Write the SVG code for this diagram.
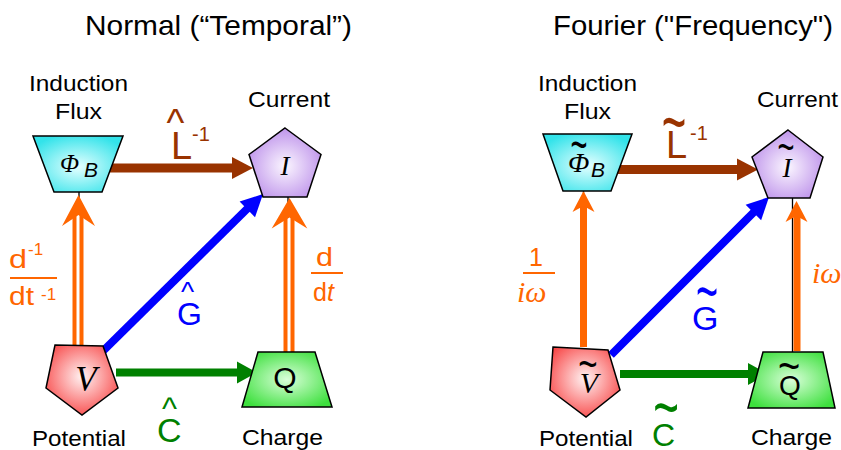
<svg xmlns="http://www.w3.org/2000/svg" xmlns:xlink="http://www.w3.org/1999/xlink" width="841" height="450" viewBox="0 0 841 450">
<style>
text{font-family:"Liberation Sans",Arial,sans-serif}
.t{font-size:28px;fill:#000}
.lb{font-size:22px;fill:#000}
.node{stroke:#000;stroke-width:1.5;stroke-linejoin:miter}
.sym{font-family:"Liberation Serif","Times New Roman",serif;font-style:italic;fill:#000}
.sub{font-style:italic;fill:#000}
.or{fill:#ff6600}
.br{fill:#993300}
.bl{fill:#0000ff}
.gr{fill:#008000}
.ital{font-family:"Liberation Serif","Times New Roman",serif;font-style:italic}
.tl{text-anchor:middle}
</style>
<defs>
<radialGradient id="gCyan" cx="50%" cy="55%" r="60%"><stop offset="0" stop-color="#e6ffff"/><stop offset="1" stop-color="#33e3ea"/></radialGradient>
<radialGradient id="gPur" cx="50%" cy="55%" r="60%"><stop offset="0" stop-color="#fbf6ff"/><stop offset="1" stop-color="#b98be9"/></radialGradient>
<radialGradient id="gRed" cx="50%" cy="45%" r="60%"><stop offset="0" stop-color="#fff3f3"/><stop offset="1" stop-color="#f84848"/></radialGradient>
<radialGradient id="gGrn" cx="50%" cy="50%" r="60%"><stop offset="0" stop-color="#d9ffd9"/><stop offset="1" stop-color="#3ee03e"/></radialGradient>
<polygon id="hBr" points="0,0 -21,-11 -21,11" fill="#993300"/>
<polygon id="hGr" points="0,0 -20,-11 -20,11" fill="#008000"/>
<polygon id="hBl" points="0,0 -22,-11 -22,11" fill="#0000ff"/>
<polygon id="hOd" points="0,0 -31,-16.5 -20,0 -31,16.5" fill="#ff6600"/>
<polygon id="hOs" points="0,0 -21,-11 -15,0 -21,11" fill="#ff6600"/>
</defs>
<rect width="841" height="450" fill="#fff"/>

<text class="t" x="85" y="35" textLength="267" lengthAdjust="spacingAndGlyphs">Normal (“Temporal”)</text>
<text class="t" x="553" y="35" textLength="280" lengthAdjust="spacingAndGlyphs">Fourier ("Frequency")</text>

<g id="connectors">
  <g stroke="#000" stroke-width="1.3">
    <line x1="79" y1="192" x2="79" y2="345"/>
    <line x1="288" y1="197" x2="288" y2="352"/>
    <line x1="583.5" y1="191" x2="583.5" y2="347"/>
    <line x1="792.5" y1="198" x2="792.5" y2="352"/>
  </g>
  <line x1="110" y1="168" x2="236" y2="168" stroke="#993300" stroke-width="9"/>
  <use xlink:href="#hBr" transform="translate(253,168)"/>
  <line x1="116" y1="372.5" x2="240" y2="372.5" stroke="#008000" stroke-width="8"/>
  <use xlink:href="#hGr" transform="translate(257,372.5)"/>
  <line x1="102" y1="352" x2="249" y2="207" stroke="#0000ff" stroke-width="8"/>
  <use xlink:href="#hBl" transform="translate(263,194) rotate(-44.5)"/>
  <line x1="78" y1="345" x2="78" y2="212" stroke="#ff6600" stroke-width="11"/>
  <line x1="78" y1="345" x2="78" y2="212" stroke="#fff" stroke-width="3"/>
  <use xlink:href="#hOd" transform="translate(78.5,195) rotate(-90)"/>
  <line x1="289" y1="352" x2="289" y2="216" stroke="#ff6600" stroke-width="11"/>
  <line x1="289" y1="352" x2="289" y2="216" stroke="#fff" stroke-width="3"/>
  <use xlink:href="#hOd" transform="translate(289.5,198) scale(1.08,0.98) rotate(-90)"/>
  <line x1="614" y1="169.5" x2="741" y2="169.5" stroke="#993300" stroke-width="9"/>
  <use xlink:href="#hBr" transform="translate(758,169.5)"/>
  <line x1="620" y1="374" x2="751" y2="374" stroke="#008000" stroke-width="8"/>
  <use xlink:href="#hGr" transform="translate(768,374)"/>
  <line x1="611" y1="355" x2="756" y2="210" stroke="#0000ff" stroke-width="8"/>
  <use xlink:href="#hBl" transform="translate(769,197) rotate(-44.8)"/>
  <line x1="583.5" y1="347" x2="583.5" y2="204" stroke="#ff6600" stroke-width="7"/>
  <use xlink:href="#hOs" transform="translate(583.5,191) rotate(-90)"/>
  <line x1="797" y1="351" x2="797" y2="214" stroke="#ff6600" stroke-width="7"/>
  <use xlink:href="#hOs" transform="translate(796.5,201) rotate(-90)"/>
</g>

<g id="labels">
  <text class="br" x="166.5" y="136" style="font-size:38px">^</text>
  <text class="br" x="171" y="159" style="font-size:38px">L</text>
  <text class="br" x="192" y="141" style="font-size:20px">-1</text>
  <text class="bl" x="181" y="301" style="font-size:28px">^</text>
  <text class="bl" x="177" y="325" style="font-size:32px">G</text>
  <text class="gr" x="162" y="419" style="font-size:32px">^</text>
  <text class="gr" x="157" y="442" style="font-size:34px">C</text>
  <text class="or" x="9" y="268" style="font-size:25px" textLength="18" lengthAdjust="spacingAndGlyphs">d</text>
  <text class="or" x="28" y="255" style="font-size:17px">-1</text>
  <line x1="10" y1="278" x2="57" y2="278" stroke="#ff6600" stroke-width="2"/>
  <text class="or" x="9" y="305" style="font-size:25px" textLength="25" lengthAdjust="spacingAndGlyphs">dt</text>
  <text class="or" x="41" y="300" style="font-size:17px">-1</text>
  <text class="or" x="316" y="266" style="font-size:25px" textLength="17" lengthAdjust="spacingAndGlyphs">d</text>
  <line x1="311" y1="273" x2="343" y2="273" stroke="#ff6600" stroke-width="2"/>
  <text class="or" x="313" y="301" style="font-size:25px">d<tspan style="font-style:italic">t</tspan></text>

  <g transform="translate(674,124) scale(1,1.8)"><text class="br tl" x="0" y="13.4" style="font-size:42px">~</text></g>
  <text class="br" x="666" y="158" style="font-size:38px">L</text>
  <text class="br" x="690" y="140" style="font-size:20px">-1</text>
  <g transform="translate(707,293) scale(1,1.8)"><text class="bl tl" x="0" y="12.2" style="font-size:38px">~</text></g>
  <text class="bl" x="692" y="330" style="font-size:34px">G</text>
  <g transform="translate(666,408) scale(1,1.6)"><text class="gr tl" x="0" y="14.1" style="font-size:44px">~</text></g>
  <text class="gr" x="652" y="446" style="font-size:32px">C</text>
  <text class="or" x="529" y="266" style="font-size:25px">1</text>
  <line x1="523" y1="273" x2="555" y2="273" stroke="#ff6600" stroke-width="2"/>
  <text class="or ital" x="517" y="302" style="font-size:30px">iω</text>
  <text class="or ital" x="812" y="283" style="font-size:30px">iω</text>
</g>

<g id="flux-t">
  <polygon class="node" points="33,136 123,136 102,192 54,192" fill="url(#gCyan)"/>
  <text class="sym" x="60" y="172" style="font-size:25px">Φ</text><text class="sub" x="84" y="177" style="font-size:21px">B</text>
  <text class="lb" x="29" y="91" textLength="99" lengthAdjust="spacingAndGlyphs">Induction</text>
  <text class="lb" x="55" y="119" textLength="47" lengthAdjust="spacingAndGlyphs">Flux</text>
</g>
<g id="current-t">
  <polygon class="node" points="285,128 321,154.5 307,197 263,197 249,154.5" fill="url(#gPur)"/>
  <text class="sym tl" x="285" y="175" style="font-size:27px">I</text>
  <text class="lb" x="248" y="107" textLength="82" lengthAdjust="spacingAndGlyphs">Current</text>
</g>
<g id="potential-t">
  <polygon class="node" points="55,345 103,346 118,388 82,415 46,388" fill="url(#gRed)"/>
  <text class="sym tl" x="86" y="391" style="font-size:35px">V</text>
  <text class="lb" x="32" y="446" textLength="94" lengthAdjust="spacingAndGlyphs">Potential</text>
</g>
<g id="charge-t">
  <polygon class="node" points="258,352 315,352 332,407 242,407" fill="url(#gGrn)"/>
  <text class="tl" x="285" y="388" style="font-size:30px;fill:#000">Q</text>
  <text class="lb" x="242" y="445" textLength="81" lengthAdjust="spacingAndGlyphs">Charge</text>
</g>

<g id="flux-f">
  <polygon class="node" points="543,134 632,134 611,191 563,191" fill="url(#gCyan)"/>
  <text class="sym" x="568" y="172" style="font-size:28px">Φ</text><text class="sub" x="591" y="177" style="font-size:21px">B</text>
  <g transform="translate(579,145) scale(1,1.8)"><text class="tl" x="0" y="9.3" style="font-size:29px;fill:#000">~</text></g>
  <text class="lb" x="538" y="91" textLength="99" lengthAdjust="spacingAndGlyphs">Induction</text>
  <text class="lb" x="564" y="119" textLength="47" lengthAdjust="spacingAndGlyphs">Flux</text>
</g>
<g id="current-f">
  <polygon class="node" points="788,130 823,157 810,198 768,198 752,157" fill="url(#gPur)"/>
  <text class="sym tl" x="787" y="177" style="font-size:27px">I</text>
  <g transform="translate(786,148) scale(1,1.6)"><text class="tl" x="0" y="9.3" style="font-size:29px;fill:#000">~</text></g>
  <text class="lb" x="757" y="107" textLength="81" lengthAdjust="spacingAndGlyphs">Current</text>
</g>
<g id="potential-f">
  <polygon class="node" points="553,347 608,350 620,390 586,417 550,390" fill="url(#gRed)"/>
  <text class="sym tl" x="589" y="393" style="font-size:30px">V</text>
  <g transform="translate(588,365) scale(1,1.4)"><text class="tl" x="0" y="10.6" style="font-size:33px;fill:#000">~</text></g>
  <text class="lb" x="539" y="446" textLength="94" lengthAdjust="spacingAndGlyphs">Potential</text>
</g>
<g id="charge-f">
  <polygon class="node" points="763,352 823,352 835,408 748,408" fill="url(#gGrn)"/>
  <text class="tl" x="790" y="395" style="font-size:28px;fill:#000">Q</text>
  <g transform="translate(789,367) scale(1,1.2)"><text class="tl" x="0" y="12.2" style="font-size:38px;fill:#000">~</text></g>
  <text class="lb" x="751" y="445" textLength="81" lengthAdjust="spacingAndGlyphs">Charge</text>
</g>
</svg>
